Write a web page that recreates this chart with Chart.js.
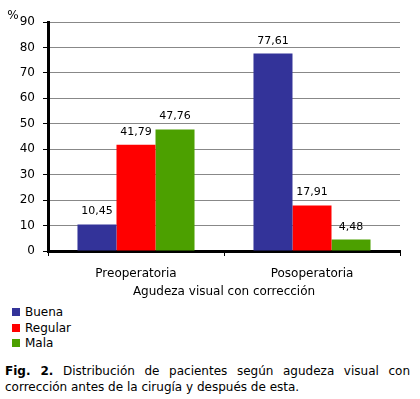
<!DOCTYPE html>
<html>
<head>
<meta charset="utf-8">
<script src="https://cdn.jsdelivr.net/npm/chart.js@4/dist/chart.umd.min.js"></script>
<style>
  body { margin: 0; background: #fff; font-family: "DejaVu Sans", Verdana, sans-serif; }
  #wrap { position: relative; width: 420px; height: 303px; }
  #legend { margin: 2px 0 0 12px; font-size: 12px; color: #000; }
  #legend div { height: 15.5px; line-height: 15.5px; }
  #legend span.box { display: inline-block; width: 8px; height: 8px; margin-right: 5px; vertical-align: 0px; }
  #caption { margin: 11px 10px 0 5px; font-size: 12px; line-height: 16px; text-align: justify; color: #000; }
</style>
</head>
<body>
<div id="wrap"><canvas id="chart" width="420" height="303"></canvas></div>
<div id="legend"></div>
<div id="caption"><b>Fig. 2.</b> Distribución de pacientes según agudeza visual con corrección antes de la cirugía y después de esta.</div>
<script>
let categories = ['Preoperatoria', 'Posoperatoria'];
let seriesNames = ['Buena', 'Regular', 'Mala'];
let buena = [10.45, 77.61];
let regular = [41.79, 17.91];
let mala = [47.76, 4.48];
let colors = ['#333399', '#ff0000', '#4ca000'];
let yTicks = [0, 10, 20, 30, 40, 50, 60, 70, 80, 90];

let legend = document.getElementById('legend');
seriesNames.forEach((name, i) => {
  legend.innerHTML += '<div><span class="box" style="background:' + colors[i] + '"></span>' + name + '</div>';
});

// labels above the bars, comma decimal
const barLabels = {
  id: 'barLabels',
  afterDatasetsDraw(chart) {
    let ctx = chart.ctx;
    ctx.save();
    ctx.font = '11px "DejaVu Sans"';
    ctx.fillStyle = '#000';
    ctx.textAlign = 'center';
    ctx.textBaseline = 'alphabetic';
    chart.data.datasets.forEach((ds, i) => {
      chart.getDatasetMeta(i).data.forEach((bar, j) => {
        ctx.fillText(ds.data[j].toFixed(2).replace('.', ','), bar.x, bar.y - 10);
      });
    });
    ctx.font = '12px "DejaVu Sans"';
    ctx.fillText('%', 13, 19);
    ctx.restore();
  }
};

let data = {
  labels: categories,
  datasets: [buena, regular, mala].map((values, i) => ({
    label: seriesNames[i],
    data: values,
    backgroundColor: colors[i],
    barPercentage: 1,
    categoryPercentage: 0.665
  }))
};

new Chart(document.getElementById('chart'), {
  type: 'bar',
  data: data,
  options: {
    responsive: false,
    animation: false,
    layout: { padding: { left: 0, right: 20, top: 22, bottom: 0 } },
    plugins: { legend: { display: false }, tooltip: { enabled: false } },
    scales: {
      x: {
        grid: { offset: true, drawOnChartArea: false, tickColor: '#000', tickLength: 5 },
        border: { color: '#000', width: 3 },
        ticks: { color: '#000', font: { family: 'DejaVu Sans', size: 12 }, padding: 11 },
        title: { display: true, text: 'Agudeza visual con corrección', color: '#000', font: { family: 'DejaVu Sans', size: 12 }, padding: { top: 4, bottom: 4 } },
        afterFit: (scale) => { scale.height = 52; }
      },
      y: {
        min: 0,
        max: 90,
        afterBuildTicks: (scale) => { scale.ticks = yTicks.map((v) => ({ value: v })); },
        grid: { color: '#888', tickColor: '#000', tickLength: 5 },
        border: { color: '#000', width: 3 },
        ticks: { color: '#000', font: { family: 'DejaVu Sans', size: 12 }, padding: 8 },
        afterFit: (scale) => { scale.width = 48; }
      }
    }
  },
  plugins: [barLabels]
});
</script>
</body>
</html>
